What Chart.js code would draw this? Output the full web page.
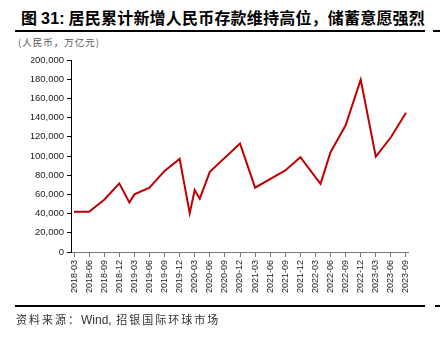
<!DOCTYPE html>
<html>
<head>
<meta charset="utf-8">
<script src="https://cdn.jsdelivr.net/npm/chart.js@4"></script>
<style>
  html, body { margin: 0; padding: 0; background: #fff; }
  body { width: 440px; height: 337px; position: relative; overflow: hidden; }
  #title { position: absolute; left: 21px; top: 7px; font-family: "Noto Sans CJK SC", sans-serif; font-size: 16px; font-weight: bold; color: #000; white-space: nowrap; line-height: 20px; letter-spacing: 0.2px; }
  #title b { font-family: "Liberation Sans", Arial, sans-serif; }
  .rule { position: absolute; height: 2px; background: #000; }
  #unit { position: absolute; left: 18px; top: 35px; font-family: "Noto Sans CJK SC", sans-serif; font-size: 9.5px; color: #555; white-space: nowrap; letter-spacing: 1px; line-height: 14px; }
  #source { position: absolute; left: 16px; top: 311px; font-family: "Noto Sans CJK SC", sans-serif; font-size: 11px; color: #333; white-space: nowrap; letter-spacing: 2px; line-height: 16px; }
  #source span { font-family: "Liberation Sans", Arial, sans-serif; font-size: 12px; letter-spacing: 0; }
  canvas { position: absolute; left: 0; top: 0; }
</style>
</head>
<body>
<div id="title">图 <b>31:</b> 居民累计新增人民币存款维持高位，储蓄意愿强烈</div>
<div class="rule" style="left:15px; top:30px; width:410px;"></div>
<div class="rule" style="left:433px; top:30px; width:7px;"></div>
<div id="unit">(人民币，万亿元)</div>
<canvas id="c" width="440" height="337"></canvas>
<div class="rule" style="left:15px; top:305px; width:410px;"></div>
<div class="rule" style="left:435px; top:305px; width:5px;"></div>
<div id="source">资料来源：<span>Wind,</span> 招银国际环球市场</div>
<script>
const tickLabels = ['2018-03','2018-06','2018-09','2018-12','2019-03','2019-06','2019-09','2019-12',
  '2020-03','2020-06','2020-09','2020-12','2021-03','2021-06','2021-09','2021-12',
  '2022-03','2022-06','2022-09','2022-12','2023-03','2023-06','2023-09'];

const dates = ['2018-03','2018-06','2018-09','2018-12','2019-02','2019-03','2019-06','2019-09','2019-12',
  '2020-02','2020-03','2020-04','2020-06','2020-12','2021-03','2021-09','2021-12',
  '2022-04','2022-06','2022-09','2022-12','2023-03','2023-06','2023-09'];

const values = [42000, 42000, 54500, 71500, 51500, 60000, 67000, 84500, 97000,
  40500, 64500, 55500, 83500, 113000, 67000, 85000, 98800,
  71000, 104000, 132000, 179500, 99300, 119500, 145000];

function monthIndex(d) {
  const [y, m] = d.split('-').map(Number);
  return (y - 2018) * 12 + (m - 3);
}

const points = dates.map((d, i) => ({ x: monthIndex(d), y: values[i] }));

const tickFont = { family: '"Liberation Sans", Arial, sans-serif', size: 9.5 };

new Chart(document.getElementById('c'), {
  type: 'line',
  data: {
    datasets: [{
      data: points,
      borderColor: '#C00000',
      borderWidth: 2,
      pointRadius: 0,
      tension: 0,
      fill: false
    }]
  },
  options: {
    responsive: false,
    animation: false,
    devicePixelRatio: 1,
    layout: { padding: { left: 31, right: 32, top: 60, bottom: 0 } },
    plugins: { legend: { display: false }, tooltip: { enabled: false } },
    scales: {
      x: {
        type: 'linear',
        position: 'bottom',
        min: -0.6,
        max: 66.4,
        afterFit: (s) => { s.height = 85; },
        afterBuildTicks: (s) => { s.ticks = tickLabels.map((l, i) => ({ value: i * 3 })); },
        grid: { drawOnChartArea: false, drawTicks: true, tickLength: 5, color: '#777' },
        border: { display: true, color: '#777', width: 1 },
        ticks: {
          autoSkip: false,
          minRotation: 90,
          maxRotation: 90,
          padding: 3,
          color: '#222',
          font: { family: '"Liberation Sans", Arial, sans-serif', size: 9 },
          callback: (v) => tickLabels[Math.round(v / 3)]
        }
      },
      y: {
        min: 0,
        max: 200000,
        afterFit: (s) => { s.width = 40; },
        grid: { drawOnChartArea: false, drawTicks: true, tickLength: 4, color: '#000' },
        border: { display: true, color: '#000', width: 1 },
        ticks: {
          stepSize: 20000,
          padding: 3,
          color: '#222',
          font: tickFont,
          callback: (v) => v.toLocaleString('en-US')
        }
      }
    }
  }
});
</script>
</body>
</html>
